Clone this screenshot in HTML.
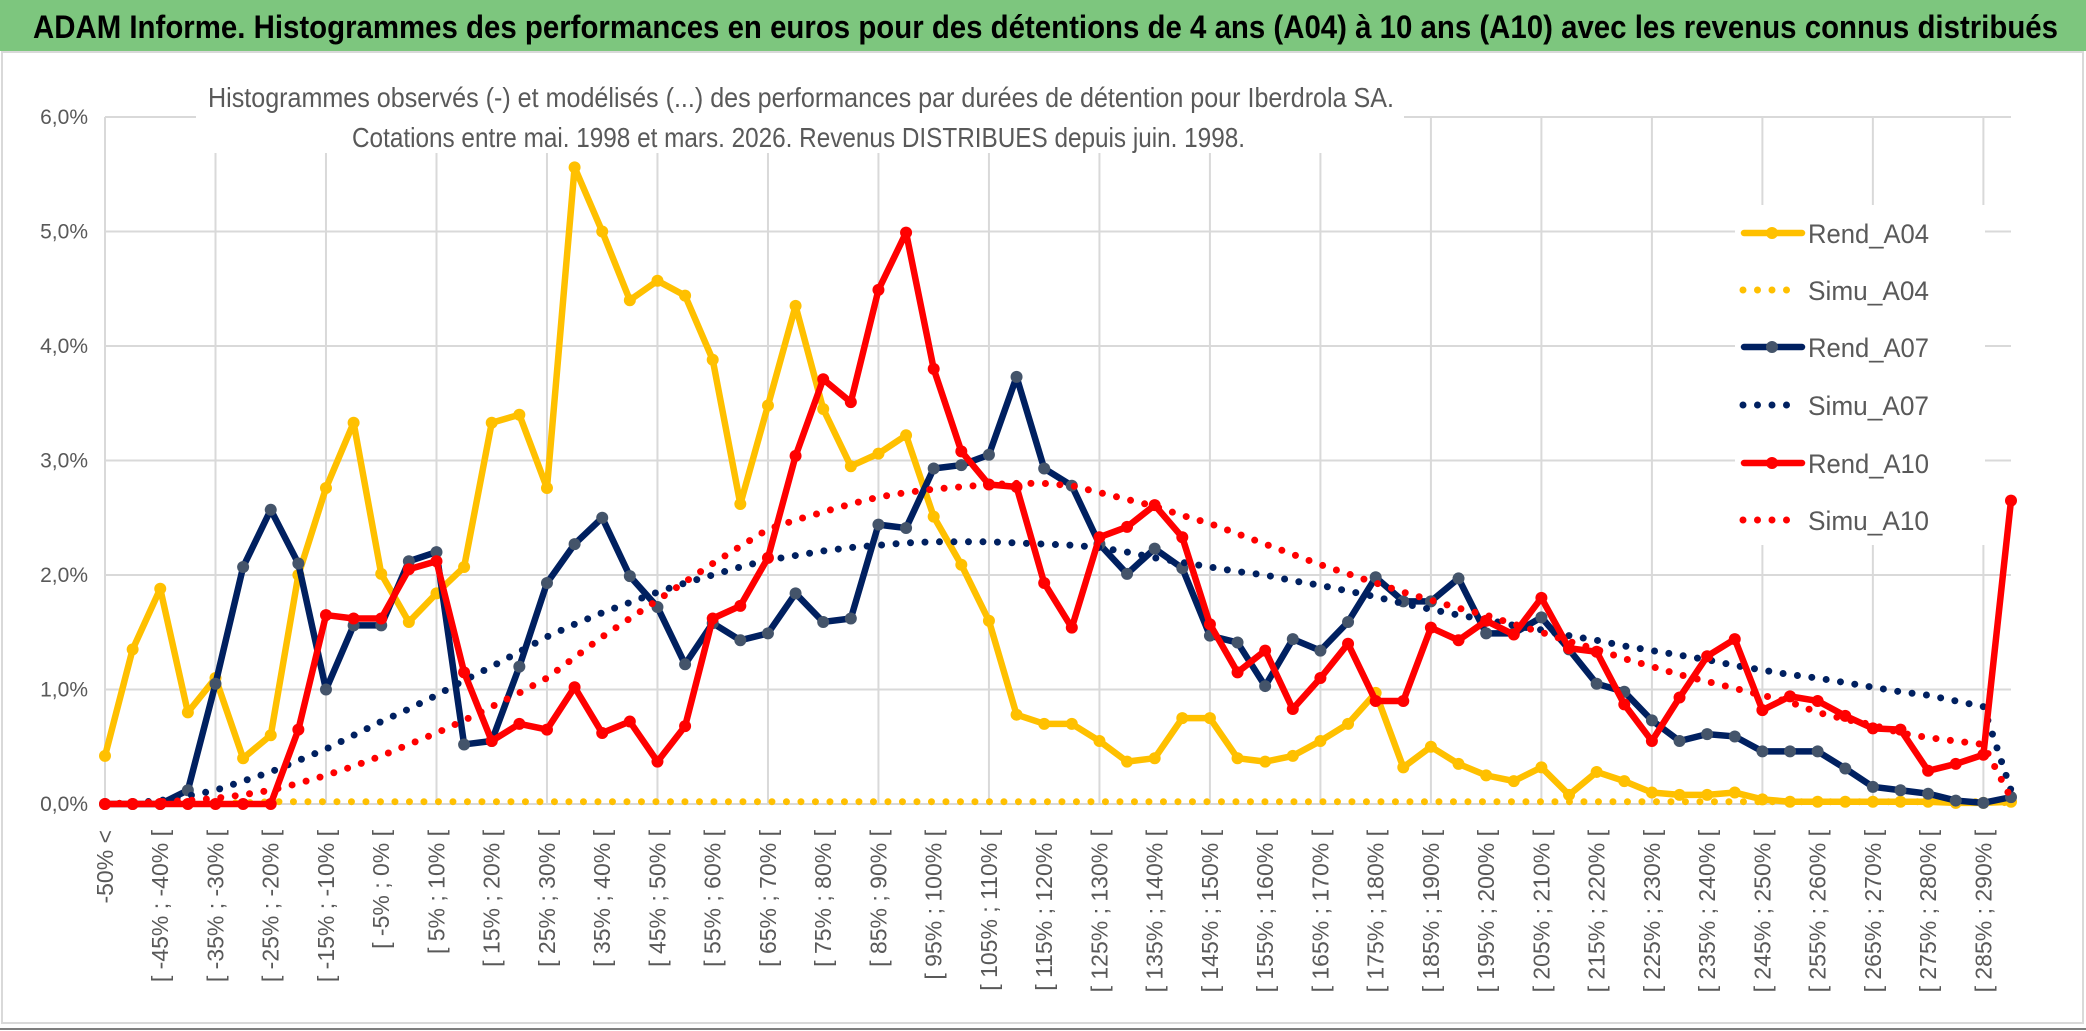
<!DOCTYPE html>
<html><head><meta charset="utf-8">
<style>
html,body{margin:0;padding:0;background:#fff;}
svg{display:block;}
text{font-family:"Liberation Sans",sans-serif;}
</style></head>
<body>
<svg id="chart" width="2086" height="1031" viewBox="0 0 2086 1031" xmlns="http://www.w3.org/2000/svg">
  <rect x="0" y="0" width="2086" height="1031" fill="#ffffff"/>
  <rect x="2" y="52" width="2081" height="971" fill="none" stroke="#d9d9d9" stroke-width="2"/>
  <line x1="0" y1="1029" x2="2086" y2="1029" stroke="#7f7f7f" stroke-width="2"/>
  <rect x="0" y="0" width="2086" height="51" fill="#7dc67e"/>
  <text x="33" y="38" font-size="32" font-weight="bold" fill="#000" textLength="2025" lengthAdjust="spacingAndGlyphs">ADAM Informe. Histogrammes des performances en euros pour des détentions de 4 ans (A04) à 10 ans (A10) avec les revenus connus distribués</text>
  <g id="grid"></g>
  <rect x="196" y="76" width="1208" height="77" fill="#fff"/>
  <text x="208" y="107" font-size="28" fill="#595959" textLength="1186" lengthAdjust="spacingAndGlyphs">Histogrammes observés (-) et modélisés (...) des performances par durées de détention pour Iberdrola SA.</text>
  <text x="352" y="147" font-size="28" fill="#595959" textLength="893" lengthAdjust="spacingAndGlyphs">Cotations entre mai. 1998 et mars. 2026. Revenus DISTRIBUES depuis juin. 1998.</text>
  <g id="yaxis"></g>
  <g id="xaxis"></g>
  <g id="series"></g>
  <g id="legend"></g>
</svg>
<script>
const categories = ["-50% <","[ -50% ; -45% [","[ -45% ; -40% [","[ -40% ; -35% [","[ -35% ; -30% [","[ -30% ; -25% [","[ -25% ; -20% [","[ -20% ; -15% [","[ -15% ; -10% [","[ -10% ; -5% [",
"[ -5% ; 0% [","[ 0% ; 5% [","[ 5% ; 10% [","[ 10% ; 15% [","[ 15% ; 20% [","[ 20% ; 25% [","[ 25% ; 30% [","[ 30% ; 35% [","[ 35% ; 40% [","[ 40% ; 45% [",
"[ 45% ; 50% [","[ 50% ; 55% [","[ 55% ; 60% [","[ 60% ; 65% [","[ 65% ; 70% [","[ 70% ; 75% [","[ 75% ; 80% [","[ 80% ; 85% [","[ 85% ; 90% [","[ 90% ; 95% [",
"[ 95% ; 100% [","[ 100% ; 105% [","[ 105% ; 110% [","[ 110% ; 115% [","[ 115% ; 120% [","[ 120% ; 125% [","[ 125% ; 130% [","[ 130% ; 135% [","[ 135% ; 140% [","[ 140% ; 145% [",
"[ 145% ; 150% [","[ 150% ; 155% [","[ 155% ; 160% [","[ 160% ; 165% [","[ 165% ; 170% [","[ 170% ; 175% [","[ 175% ; 180% [","[ 180% ; 185% [","[ 185% ; 190% [","[ 190% ; 195% [",
"[ 195% ; 200% [","[ 200% ; 205% [","[ 205% ; 210% [","[ 210% ; 215% [","[ 215% ; 220% [","[ 220% ; 225% [","[ 225% ; 230% [","[ 230% ; 235% [","[ 235% ; 240% [","[ 240% ; 245% [",
"[ 245% ; 250% [","[ 250% ; 255% [","[ 255% ; 260% [","[ 260% ; 265% [","[ 265% ; 270% [","[ 270% ; 275% [","[ 275% ; 280% [","[ 280% ; 285% [","[ 285% ; 290% [","[ 290% ; 295% ["];
const yTicks = [0,1,2,3,4,5,6];
const yTickLabels = ["0,0%","1,0%","2,0%","3,0%","4,0%","5,0%","6,0%"];
const rendA04 = [0.42,1.35,1.88,0.80,1.10,0.40,0.60,2.00,2.76,3.33,
2.01,1.59,1.84,2.07,3.33,3.40,2.76,5.56,5.00,4.40,
4.57,4.44,3.88,2.62,3.48,4.35,3.45,2.95,3.06,3.22,
2.51,2.09,1.60,0.78,0.70,0.70,0.55,0.37,0.40,0.75,
0.75,0.40,0.37,0.42,0.55,0.70,0.97,0.32,0.50,0.35,
0.25,0.20,0.32,0.08,0.28,0.20,0.10,0.08,0.08,0.10,
0.04,0.02,0.02,0.02,0.02,0.02,0.02,0.01,0.01,0.02];
const simuA04 = [0.00,0.01,0.01,0.01,0.01,0.01,0.02,0.02,0.02,0.02,
0.02,0.02,0.02,0.02,0.02,0.02,0.02,0.02,0.02,0.02,
0.02,0.02,0.02,0.02,0.02,0.02,0.02,0.02,0.02,0.02,
0.02,0.02,0.02,0.02,0.02,0.02,0.02,0.02,0.02,0.02,
0.02,0.02,0.02,0.02,0.02,0.02,0.02,0.02,0.02,0.02,
0.02,0.02,0.02,0.02,0.02,0.02,0.02,0.02,0.02,0.02,
0.02,0.02,0.02,0.02,0.02,0.02,0.02,0.02,0.02,0.01];
const rendA07 = [0.00,0.00,0.00,0.12,1.05,2.07,2.57,2.10,1.00,1.56,
1.56,2.12,2.20,0.52,0.55,1.20,1.93,2.27,2.50,1.99,
1.72,1.22,1.58,1.43,1.49,1.84,1.59,1.62,2.44,2.41,
2.93,2.96,3.05,3.73,2.93,2.78,2.27,2.01,2.23,2.06,
1.47,1.41,1.03,1.44,1.34,1.59,1.98,1.77,1.77,1.97,
1.49,1.49,1.63,1.35,1.05,0.98,0.73,0.55,0.61,0.59,
0.46,0.46,0.46,0.31,0.15,0.12,0.09,0.03,0.01,0.06];
const simuA07 = [0.00,0.01,0.03,0.07,0.12,0.20,0.28,0.38,0.48,0.60,
0.72,0.83,0.95,1.08,1.20,1.33,1.46,1.57,1.67,1.76,
1.85,1.93,2.00,2.07,2.13,2.17,2.21,2.24,2.26,2.28,
2.29,2.29,2.29,2.28,2.27,2.26,2.24,2.20,2.15,2.11,
2.07,2.03,2.00,1.95,1.91,1.86,1.81,1.75,1.70,1.65,
1.61,1.56,1.52,1.47,1.43,1.38,1.34,1.30,1.26,1.21,
1.17,1.13,1.10,1.06,1.02,0.98,0.95,0.90,0.85,0.12];
const rendA10 = [0.00,0.00,0.00,0.00,0.00,0.00,0.00,0.65,1.65,1.62,
1.62,2.05,2.12,1.15,0.55,0.70,0.65,1.02,0.62,0.72,
0.37,0.68,1.62,1.73,2.15,3.04,3.71,3.51,4.49,4.99,
3.80,3.08,2.79,2.77,1.93,1.54,2.33,2.42,2.61,2.33,
1.57,1.15,1.34,0.83,1.10,1.40,0.90,0.90,1.54,1.43,
1.60,1.48,1.80,1.36,1.33,0.87,0.55,0.93,1.29,1.44,
0.82,0.94,0.90,0.77,0.66,0.65,0.29,0.35,0.43,2.65];
const simuA10 = [0.00,0.01,0.02,0.03,0.05,0.08,0.12,0.18,0.25,0.33,
0.42,0.52,0.62,0.73,0.85,0.97,1.10,1.28,1.46,1.62,
1.78,1.94,2.10,2.25,2.40,2.48,2.55,2.62,2.68,2.72,
2.75,2.77,2.79,2.80,2.80,2.78,2.72,2.66,2.60,2.52,
2.45,2.36,2.27,2.18,2.09,2.01,1.93,1.85,1.78,1.71,
1.65,1.57,1.50,1.42,1.35,1.27,1.20,1.13,1.07,1.01,
0.95,0.89,0.80,0.74,0.69,0.62,0.58,0.55,0.52,0.05];

const NS = "http://www.w3.org/2000/svg";
const X0 = 105, X1 = 2011, Y0 = 804, YTOP = 117, YMAX = 6;
function xPos(i){ return X0 + i * (X1 - X0) / (categories.length - 1); }
function yPos(v){ return Y0 - v * (Y0 - YTOP) / YMAX; }
function mk(tag, attrs, parent){ const e = document.createElementNS(NS, tag); for (const k in attrs) e.setAttribute(k, attrs[k]); parent.appendChild(e); return e; }

const grid = document.getElementById('grid');
yTicks.forEach(function(t){
  const l = mk('line', {x1: X0, x2: X1, y1: yPos(t), y2: yPos(t), stroke: '#d9d9d9', 'stroke-width': 2}, grid);
  
  
});
for (let i = 0; i < categories.length; i += 4) {
  const l = mk('line', {x1: xPos(i), x2: xPos(i), y1: YTOP, y2: Y0, stroke: '#d9d9d9', 'stroke-width': 2}, grid);
  
  
}

const yaxis = document.getElementById('yaxis');
yTicks.forEach(function(t, k){
  const tx = mk('text', {x: 88, y: yPos(t) + 7, 'text-anchor': 'end', 'font-size': 21, fill: '#595959'}, yaxis);
  tx.textContent = yTickLabels[k];
  
  
});

const xaxis = document.getElementById('xaxis');
categories.forEach(function(c, i){
  if (i % 2 !== 0) return;
  const x = xPos(i);
  const tx = mk('text', {x: 0, y: 0, 'text-anchor': 'end', 'font-size': 23, fill: '#595959', 'dominant-baseline': 'central', transform: 'translate(' + x + ',830) rotate(-90)'}, xaxis);
  tx.textContent = c;
  
  
});

const series = document.getElementById('series');
function drawRend(vals, color, markerColor, name){
  const g = mk('g', {}, series);
  
  
  const pts = vals.map(function(v, i){ return xPos(i) + ',' + yPos(v); }).join(' ');
  const pl = mk('polyline', {points: pts, fill: 'none', stroke: color, 'stroke-width': 6.5, 'stroke-linejoin': 'round', 'stroke-linecap': 'round'}, g);
  
  
  vals.forEach(function(v, i){
    const c = mk('circle', {cx: xPos(i), cy: yPos(v), r: 6, fill: markerColor}, g);
    
    
  });
}
function drawSimu(vals, color, name){
  const pts = vals.map(function(v, i){ return xPos(i) + ',' + yPos(v); }).join(' ');
  const pl = mk('polyline', {points: pts, fill: 'none', stroke: color, 'stroke-width': 7, 'stroke-linecap': 'round', 'stroke-dasharray': '0 14.5'}, series);
  
  
}
drawRend(rendA04, '#ffc000', '#ffc000', 'rend-a04');
drawSimu(simuA04, '#ffc000', 'simu-a04');
drawRend(rendA07, '#002060', '#44546a', 'rend-a07');
drawSimu(simuA07, '#002060', 'simu-a07');
drawRend(rendA10, '#ff0000', '#ff0000', 'rend-a10');
drawSimu(simuA10, '#ff0000', 'simu-a10');

const legend = document.getElementById('legend');
const bg = mk('rect', {x: 1735, y: 205, width: 250, height: 340, fill: '#fff'}, legend);


const legItems = [
  ['Rend_A04', '#ffc000', '#ffc000', false],
  ['Simu_A04', '#ffc000', '#ffc000', true],
  ['Rend_A07', '#002060', '#44546a', false],
  ['Simu_A07', '#002060', '#002060', true],
  ['Rend_A10', '#ff0000', '#ff0000', false],
  ['Simu_A10', '#ff0000', '#ff0000', true]
];
const legY = [233, 290, 347, 405, 463, 520];
legItems.forEach(function(it, k){
  const y = legY[k];
  const g = mk('g', {}, legend);
  
  
  if (it[3]) {
    mk('line', {x1: 1743, x2: 1800, y1: y, y2: y, stroke: it[1], 'stroke-width': 7, 'stroke-linecap': 'round', 'stroke-dasharray': '0 14.5'}, g);
  } else {
    mk('line', {x1: 1744, x2: 1802, y1: y, y2: y, stroke: it[1], 'stroke-width': 6.5, 'stroke-linecap': 'round'}, g);
    mk('circle', {cx: 1772, cy: y, r: 6, fill: it[2]}, g);
  }
  const t = mk('text', {x: 1808, y: y + 10, 'font-size': 27, fill: '#595959', textLength: 121, lengthAdjust: 'spacingAndGlyphs'}, g);
  t.textContent = it[0];
});
</script>
</body></html>
